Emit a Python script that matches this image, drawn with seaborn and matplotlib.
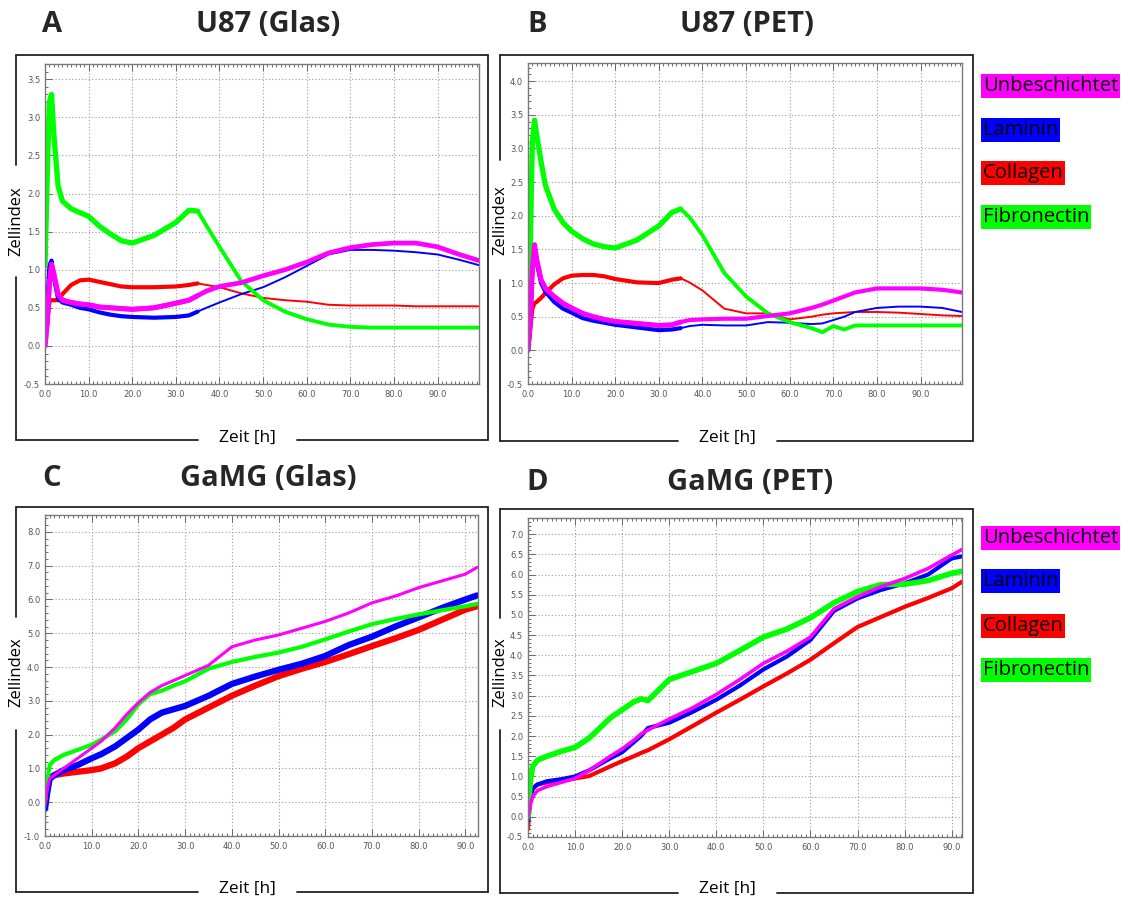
import numpy as np
import pandas as pd
import matplotlib
matplotlib.use("Agg")
import matplotlib.pyplot as plt
from matplotlib.lines import Line2D
from matplotlib.ticker import FixedLocator, MultipleLocator, FormatStrFormatter
import seaborn as sns

sns.set_style("white")
plt.rcParams['font.family'] = ['Open Sans', 'DejaVu Sans']

# ---------------- data ----------------
series_names = ["Unbeschichtet", "Laminin", "Collagen", "Fibronectin"]
series_colors = ["#FF00FF", "#0000FF", "#FF0000", "#00FF00"]

# Panel A : U87 (Glas)
a_time = [0, 0.5, 1, 1.5, 2, 3, 4, 6, 8, 10, 12.5, 15, 17.5, 20, 25, 30, 33, 35, 37, 40,
          45, 50, 55, 60, 65, 70, 75, 80, 85, 90, 95, 99.5]
a_unbeschichtet = [0.0, 0.3, 0.8, 1.07, 0.95, 0.68, 0.6, 0.57, 0.55, 0.54, 0.51, 0.5, 0.49, 0.48,
                   0.5, 0.56, 0.6, 0.66, 0.72, 0.78, 0.83, 0.92, 1.0, 1.1, 1.22, 1.29, 1.33, 1.35,
                   1.35, 1.3, 1.2, 1.12]
a_laminin = [0.1, 0.5, 1.05, 1.12, 0.9, 0.62, 0.57, 0.54, 0.5, 0.48, 0.44, 0.41, 0.39, 0.38,
             0.37, 0.38, 0.4, 0.45, 0.5, 0.57, 0.68, 0.77, 0.9, 1.05, 1.2, 1.26, 1.26, 1.25,
             1.23, 1.2, 1.13, 1.06]
a_collagen = [0.1, 0.3, 0.58, 0.6, 0.6, 0.6, 0.68, 0.8, 0.86, 0.87, 0.84, 0.81, 0.78, 0.77,
              0.77, 0.78, 0.8, 0.82, 0.8, 0.77, 0.69, 0.63, 0.6, 0.58, 0.54, 0.53, 0.53, 0.53,
              0.52, 0.52, 0.52, 0.52]
a_fibronectin = [1.05, 2.2, 3.2, 3.3, 2.8, 2.1, 1.9, 1.8, 1.75, 1.7, 1.57, 1.47, 1.38, 1.35,
                 1.45, 1.62, 1.78, 1.77, 1.58, 1.3, 0.85, 0.6, 0.45, 0.35, 0.28, 0.25, 0.24, 0.24,
                 0.24, 0.24, 0.24, 0.24]

# Panel B : U87 (PET)
b_time = [0, 0.5, 1, 1.5, 2, 3, 4, 6, 8, 10, 12.5, 15, 17.5, 20, 25, 30, 33, 35, 37, 40,
          45, 50, 55, 60, 65, 67.5, 70, 72.5, 75, 80, 85, 90, 95, 99.5]
b_unbeschichtet = [0.0, 0.4, 1.2, 1.57, 1.35, 1.05, 0.92, 0.8, 0.7, 0.63, 0.55, 0.5, 0.46, 0.43,
                   0.4, 0.37, 0.38, 0.42, 0.45, 0.46, 0.47, 0.47, 0.51, 0.55, 0.63, 0.68, 0.74,
                   0.8, 0.86, 0.92, 0.92, 0.92, 0.9, 0.86]
b_laminin = [0.0, 0.4, 1.2, 1.55, 1.3, 1.0, 0.87, 0.72, 0.62, 0.56, 0.48, 0.44, 0.41, 0.38,
             0.34, 0.3, 0.31, 0.33, 0.36, 0.38, 0.37, 0.37, 0.42, 0.41, 0.39, 0.4, 0.45, 0.5,
             0.57, 0.63, 0.65, 0.65, 0.63, 0.57]
b_collagen = [0.0, 0.3, 0.62, 0.7, 0.72, 0.78, 0.85, 0.98, 1.07, 1.11, 1.12, 1.12, 1.1, 1.06,
              1.01, 1.0, 1.05, 1.07, 1.01, 0.89, 0.62, 0.55, 0.55, 0.46, 0.5, 0.53, 0.55, 0.56,
              0.57, 0.57, 0.56, 0.54, 0.52, 0.51]
b_fibronectin = [0.0, 1.5, 3.1, 3.42, 3.2, 2.8, 2.45, 2.1, 1.9, 1.77, 1.66, 1.58, 1.54, 1.52,
                 1.64, 1.85, 2.05, 2.1, 1.98, 1.71, 1.15, 0.8, 0.55, 0.42, 0.33, 0.27, 0.36, 0.31,
                 0.37, 0.37, 0.37, 0.37, 0.37, 0.37]

# Panel C : GaMG (Glas)
c_time = [0, 0.5, 1, 2, 4, 7, 10, 12, 15, 17.5, 20, 22.5, 25, 27.5, 30, 35, 40, 45, 50, 55,
          60, 65, 70, 75, 80, 85, 90, 92.5]
c_unbeschichtet = [-0.1, 0.4, 0.7, 0.8, 1.0, 1.3, 1.6, 1.8, 2.2, 2.6, 2.95, 3.25, 3.45, 3.6,
                   3.75, 4.05, 4.6, 4.8, 4.95, 5.15, 5.35, 5.6, 5.9, 6.1, 6.35, 6.55, 6.75, 6.95]
c_laminin = [-0.2, 0.3, 0.7, 0.8, 0.95, 1.1, 1.3, 1.42, 1.65, 1.9, 2.15, 2.45, 2.65, 2.75,
             2.85, 3.15, 3.5, 3.72, 3.92, 4.1, 4.33, 4.65, 4.9, 5.2, 5.47, 5.75, 6.0, 6.12]
c_collagen = [-0.1, 0.4, 0.7, 0.8, 0.85, 0.9, 0.95, 1.0, 1.15, 1.35, 1.6, 1.8, 2.0, 2.2,
              2.45, 2.8, 3.15, 3.45, 3.73, 3.95, 4.15, 4.38, 4.62, 4.85, 5.1, 5.4, 5.7, 5.8]
c_fibronectin = [0.0, 0.6, 1.1, 1.25, 1.4, 1.55, 1.7, 1.85, 2.1, 2.45, 2.9, 3.2, 3.3, 3.45,
                 3.58, 3.95, 4.15, 4.3, 4.43, 4.6, 4.82, 5.05, 5.27, 5.42, 5.56, 5.68, 5.8, 5.87]

# Panel D : GaMG (PET)
d_time = [0, 0.5, 1, 2, 4, 7, 10, 13, 17.5, 20, 22.5, 24, 25.5, 30, 35, 40, 45, 50, 55, 60,
          65, 70, 75, 80, 85, 90, 92.2]
d_unbeschichtet = [0.0, 0.3, 0.5, 0.65, 0.75, 0.85, 0.95, 1.15, 1.5, 1.68, 1.9, 2.05, 2.15,
                   2.42, 2.7, 3.03, 3.4, 3.8, 4.1, 4.45, 5.15, 5.45, 5.7, 5.9, 6.15, 6.48, 6.62]
d_laminin = [-0.1, 0.5, 0.7, 0.8, 0.88, 0.93, 1.0, 1.15, 1.45, 1.6, 1.85, 2.0, 2.2, 2.33, 2.6,
             2.9, 3.25, 3.65, 3.97, 4.38, 5.1, 5.41, 5.62, 5.78, 6.0, 6.4, 6.45]
d_collagen = [-0.3, 0.5, 0.7, 0.8, 0.85, 0.9, 0.95, 1.01, 1.25, 1.38, 1.5, 1.58, 1.65, 1.92,
              2.25, 2.58, 2.9, 3.23, 3.55, 3.89, 4.3, 4.7, 4.95, 5.2, 5.42, 5.66, 5.82]
d_fibronectin = [0.0, 0.9, 1.25, 1.4, 1.5, 1.62, 1.72, 1.95, 2.45, 2.65, 2.85, 2.92, 2.88, 3.4,
                 3.6, 3.8, 4.12, 4.45, 4.65, 4.93, 5.3, 5.58, 5.75, 5.76, 5.85, 6.03, 6.08]

x_ticks = [0, 10, 20, 30, 40, 50, 60, 70, 80, 90]
a_yticks = [-0.5, 0.0, 0.5, 1.0, 1.5, 2.0, 2.5, 3.0, 3.5]
b_yticks = [-0.5, 0.0, 0.5, 1.0, 1.5, 2.0, 2.5, 3.0, 3.5, 4.0]
c_yticks = [-1.0, 0.0, 1.0, 2.0, 3.0, 4.0, 5.0, 6.0, 7.0, 8.0]
d_yticks = [-0.5, 0.0, 0.5, 1.0, 1.5, 2.0, 2.5, 3.0, 3.5, 4.0, 4.5, 5.0, 5.5, 6.0, 6.5, 7.0]

panel_letters = ["A", "B", "C", "D"]
panel_titles = ["U87 (Glas)", "U87 (PET)", "GaMG (Glas)", "GaMG (PET)"]
y_label = "Zellindex"
x_label = "Zeit [h]"

# ---------------- figure ----------------
W, H = 1128, 902
fig = plt.figure(figsize=(W / 100, H / 100), dpi=100)
fig.patch.set_facecolor("white")


def fx(px):
    return px / W


def fy(py):
    return 1 - py / H


def long_frame(time, values):
    rows = []
    for name, vals in zip(series_names, values):
        for t, v in zip(time, vals):
            rows.append((t, v, name))
    return pd.DataFrame(rows, columns=["Zeit", "Zellindex", "Serie"])


panels = [
    dict(time=a_time, vals=[a_unbeschichtet, a_laminin, a_collagen, a_fibronectin],
         rect=(45, 64, 479, 384), ylim=(-0.5, 3.7), xmax=99.5, yticks=a_yticks, ymin_step=0.1,
         frame=(16, 55, 488, 440), ygap=(165, 277), xgap=(198, 297), ylab=(16, 221), xlab=(247, 438),
         early=35, lw_early=[3.6, 3.0, 3.0, 3.8], lw_late=[3.4, 1.4, 1.4, 2.8]),
    dict(time=b_time, vals=[b_unbeschichtet, b_laminin, b_collagen, b_fibronectin],
         rect=(528, 63, 962, 384), ylim=(-0.5, 4.27), xmax=99.5, yticks=b_yticks, ymin_step=0.1,
         frame=(500, 55, 973, 441), ygap=(160, 280), xgap=(678, 777), ylab=(500, 220), xlab=(727, 438),
         early=35, lw_early=[3.6, 3.0, 3.0, 3.8], lw_late=[3.0, 1.4, 1.4, 2.8]),
    dict(time=c_time, vals=[c_unbeschichtet, c_laminin, c_collagen, c_fibronectin],
         rect=(45, 515, 478, 836), ylim=(-1.0, 8.5), xmax=92.7, yticks=c_yticks, ymin_step=0.2,
         frame=(16, 507, 488, 892), ygap=(617, 730), xgap=(198, 297), ylab=(16, 672), xlab=(247, 889),
         early=None, lw=[2.2, 4.5, 4.5, 3.0]),
    dict(time=d_time, vals=[d_unbeschichtet, d_laminin, d_collagen, d_fibronectin],
         rect=(528, 518, 962, 837), ylim=(-0.5, 7.4), xmax=92.2, yticks=d_yticks, ymin_step=0.1,
         frame=(500, 509, 973, 893), ygap=(618, 730), xgap=(678, 777), ylab=(500, 672), xlab=(727, 889),
         early=None, lw=[2.6, 3.0, 3.0, 4.0]),
]

tick_family = ["Liberation Sans Narrow", "DejaVu Sans"]
draw_order = [2, 1, 3, 0]

for i, p in enumerate(panels):
    l, t, r, b = p["rect"]
    ax = fig.add_axes([fx(l), fy(b), (r - l) / W, (b - t) / H])
    df = long_frame(p["time"], p["vals"])
    for k in draw_order:
        name = series_names[k]
        sub = df[df["Serie"] == name]
        if p["early"] is not None:
            sns.lineplot(data=sub, x="Zeit", y="Zellindex", color=series_colors[k],
                         lw=p["lw_late"][k], ax=ax, legend=False, estimator=None, sort=False)
            early = sub[sub["Zeit"] <= p["early"]]
            sns.lineplot(data=early, x="Zeit", y="Zellindex", color=series_colors[k],
                         lw=p["lw_early"][k], ax=ax, legend=False, estimator=None, sort=False)
        else:
            sns.lineplot(data=sub, x="Zeit", y="Zellindex", color=series_colors[k],
                         lw=p["lw"][k], ax=ax, legend=False, estimator=None, sort=False)

    ax.set_xlim(0, p["xmax"])
    ax.set_ylim(*p["ylim"])
    ax.set_xlabel("")
    ax.set_ylabel("")
    ax.xaxis.set_major_locator(FixedLocator(x_ticks))
    ax.yaxis.set_major_locator(FixedLocator(p["yticks"]))
    ax.xaxis.set_minor_locator(MultipleLocator(1))
    ax.yaxis.set_minor_locator(MultipleLocator(p["ymin_step"]))
    ax.xaxis.set_major_formatter(FormatStrFormatter("%.1f"))
    ax.yaxis.set_major_formatter(FormatStrFormatter("%.1f"))
    ax.tick_params(which="both", direction="in", top=True, bottom=True, left=True, right=False,
                   color="#555555", width=0.6)
    ax.tick_params(which="major", length=5)
    ax.tick_params(which="minor", length=2.5)
    ax.tick_params(axis="x", pad=4, labelcolor="#555555")
    ax.tick_params(axis="y", pad=3.5, labelcolor="#555555")
    for lab in ax.get_xticklabels() + ax.get_yticklabels():
        lab.set_fontfamily(tick_family)
        lab.set_fontsize(6)
    ax.grid(True, which="major", color="#9a9a9a", linestyle=(0, (1, 2)), lw=0.8)
    for s in ax.spines.values():
        s.set_color("#7a7a7a")
        s.set_linewidth(1.0)

    # outer frame with gaps for the axis titles
    fl, ft, fr, fb = p["frame"]
    g0, g1 = p["ygap"]
    h0, h1 = p["xgap"]
    segs = [
        ([fl, fr], [ft, ft]),
        ([fr, fr], [ft, fb]),
        ([fl, fl], [ft, g0]),
        ([fl, fl], [g1, fb]),
        ([fl, h0], [fb, fb]),
        ([h1, fr], [fb, fb]),
    ]
    for xs, ys in segs:
        fig.add_artist(Line2D([fx(v) for v in xs], [fy(v) for v in ys],
                              transform=fig.transFigure, color="#222222", lw=1.3))
    fig.text(fx(p["ylab"][0]), fy(p["ylab"][1]), y_label, rotation=90,
             ha="center", va="center", fontsize=12, color="black")
    fig.text(fx(p["xlab"][0]), fy(p["xlab"][1]), x_label,
             ha="center", va="center", fontsize=12.5, color="black")

# panel letters and titles
letter_pos = [(52, 25), (537, 25), (52, 478), (537, 482)]
title_pos = [(268, 25), (747, 25), (268, 478), (750, 482)]
for k in range(4):
    fig.text(fx(letter_pos[k][0]), fy(letter_pos[k][1]), panel_letters[k], ha="center",
             va="center", fontsize=21, fontweight="bold")
    fig.text(fx(title_pos[k][0]), fy(title_pos[k][1]), panel_titles[k], ha="center",
             va="center", fontsize=21, fontweight="bold")

# colour-box legends
legend_rows_top = [86, 130, 173, 217]
legend_rows_bottom = [538, 581, 626, 670]
for rows in (legend_rows_top, legend_rows_bottom):
    for name, col, yy in zip(series_names, series_colors, rows):
        fig.text(fx(983), fy(yy), name, ha="left", va="center", fontsize=14.5, color="black",
                 bbox=dict(facecolor=col, edgecolor="none", pad=1.2))

fig.savefig("out.png", dpi=100, facecolor="white")
